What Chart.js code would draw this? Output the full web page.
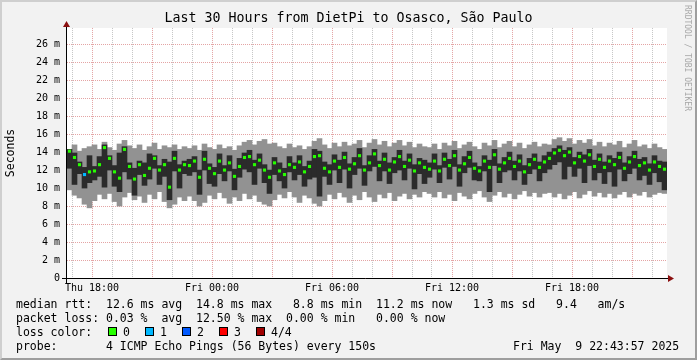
<!DOCTYPE html>
<html>
<head>
<meta charset="utf-8">
<title>DietPi to Osasco</title>
<script src="https://cdn.jsdelivr.net/npm/chart.js@4/dist/chart.umd.min.js"></script>
<style>
  html, body { margin: 0; padding: 0; background: #f2f2f2; }
  #wrap { position: relative; width: 697px; height: 360px; overflow: hidden; }
  #frame { position: absolute; left: 0; top: 0; width: 697px; height: 360px; box-sizing: border-box;
           border: 2px solid; border-color: #cfcfcf #9e9e9e #9e9e9e #cfcfcf; }
  #chart { position: absolute; left: 0; top: 0; }
  .txt { position: absolute; font-family: "DejaVu Sans Mono", monospace; font-size: 11.5px;
         line-height: 14px; white-space: pre; color: #000; }
  .box { position: absolute; width: 7px; height: 7px; border: 1px solid #000; }
  #credit { position: absolute; left: 691px; top: 5px; font-family: "DejaVu Sans Mono", monospace;
            font-size: 8px; line-height: 8px; white-space: pre; color: #a8a8a8;
            transform: rotate(90deg); transform-origin: 0 0; }
</style>
</head>
<body>
<div id="wrap">
  <div id="frame"></div>
  <canvas id="chart" width="697" height="360"></canvas>
  <div id="credit">RRDTOOL / TOBI OETIKER</div>
  <div class="txt" style="left:16px;top:297px">median rtt:  12.6 ms avg  14.8 ms max   8.8 ms min  11.2 ms now   1.3 ms sd   9.4   am/s</div>
  <div class="txt" style="left:16px;top:311px">packet loss: 0.03 %  avg  12.50 % max  0.00 % min   0.00 % now</div>
  <div class="txt" style="left:16px;top:325px">loss color:</div>
  <div id="lossLegend"></div>
  <div class="txt" style="left:16px;top:339px">probe:       4 ICMP Echo Pings (56 Bytes) every 150s</div>
  <div class="txt" style="left:513px;top:339px">Fri May  9 22:43:57 2025</div>
</div>
<script>
// one column = 15 minutes (0.25 h), 120 columns = 30 hours, starting Thu 16:45
const STEP_H = 0.25;

// smoke: min / max of the pings (light grey)
const pingMax = [
  14.2, 14.8, 14.1, 14.4, 14.6, 14.8, 14.3, 15.1, 14.5, 14.2, 14.9, 15.3, 14.7, 14.4, 14.8, 14.2, 14.6, 15.0, 14.3, 14.7, 14.5, 14.8, 14.3, 14.6,
  14.4, 14.7, 14.2, 14.9, 14.5, 14.3, 14.8, 14.4, 14.6, 14.2, 14.7, 15.1, 15.3, 14.8, 15.2, 15.4, 14.9, 15.0, 14.6, 14.4, 14.9, 14.5, 14.7, 14.3,
  14.6, 15.2, 15.5, 14.8, 14.4, 15.0, 14.6, 15.1, 14.7, 14.9, 15.3, 14.5, 15.0, 15.4, 14.8, 15.2, 14.6, 15.0, 15.3, 14.7, 15.1, 14.5, 14.9, 14.6,
  14.5, 14.9, 14.3, 15.0, 14.7, 15.2, 14.4, 14.8, 15.1, 14.6, 14.3, 15.0, 14.7, 15.3, 14.5, 14.9, 15.2, 14.6, 15.0, 14.4, 14.8, 15.1, 14.6, 14.9,
  14.8, 15.4, 15.6, 15.2, 15.5, 14.9, 15.3, 15.0, 15.4, 14.7, 15.1, 14.6, 15.0, 14.8, 15.2, 14.5, 14.9, 15.3, 14.6, 14.8, 14.4, 14.9, 14.5, 14.3
];
const pingMin = [
  9.8, 9.2, 8.9, 8.2, 7.8, 8.6, 9.3, 8.8, 9.4, 8.5, 8.0, 9.0, 9.5, 8.7, 9.1, 8.4, 9.3, 8.8, 9.6, 8.5, 7.8, 8.2, 9.0, 8.6,
  9.1, 8.6, 8.0, 8.4, 9.2, 8.8, 9.5, 8.9, 8.3, 9.0, 8.6, 9.4, 8.8, 9.2, 8.5, 8.2, 8.0, 8.7, 9.3, 8.9, 9.6, 9.0, 8.4, 9.2,
  8.9, 8.3, 8.0, 8.6, 9.3, 8.8, 9.5, 9.0, 8.4, 9.2, 8.7, 9.6, 9.0, 8.5, 9.3, 8.9, 9.5, 8.6, 9.1, 9.4, 8.8, 9.3, 9.0, 9.6,
  9.4, 9.0, 9.6, 8.9, 9.3, 8.6, 9.5, 9.1, 8.8, 9.4, 9.7, 9.0, 8.5, 9.2, 9.6, 9.0, 9.4, 8.8, 9.3, 9.7, 9.1, 9.5, 9.0, 9.4,
  9.5, 9.0, 9.4, 8.8, 9.2, 9.6, 8.9, 9.3, 9.7, 9.1, 9.5, 9.0, 9.4, 8.9, 9.3, 9.6, 9.0, 9.4, 9.2, 9.6, 9.0, 9.3, 9.5, 9.4
];
// inner smoke (dark grey)
const innerHigh = [
  14.3, 13.9, 12.9, 12.3, 13.6, 12.4, 13.5, 14.8, 13.6, 12.5, 13.9, 14.6, 12.8, 12.2, 13.0, 12.8, 13.8, 13.6, 12.5, 13.2, 12.9, 14.1, 12.6, 13.0,
  13.2, 13.5, 12.0, 14.1, 12.7, 12.3, 13.8, 12.5, 13.6, 12.1, 13.3, 13.9, 14.2, 13.1, 13.8, 12.6, 12.0, 13.4, 12.8, 12.2, 13.5, 12.8, 13.6, 12.4,
  13.0, 14.3, 14.1, 12.9, 12.6, 13.7, 13.1, 14.0, 12.7, 13.4, 14.4, 12.5, 13.6, 14.3, 13.0, 13.9, 12.8, 13.4, 14.2, 13.0, 13.8, 12.6, 13.3, 13.1,
  12.8, 13.8, 12.5, 13.9, 13.2, 14.2, 12.6, 13.5, 14.1, 12.8, 12.4, 13.6, 13.1, 14.3, 12.7, 13.4, 14.0, 13.0, 13.7, 12.5, 13.3, 13.8, 12.9, 13.6,
  14.0, 14.4, 14.7, 14.2, 14.5, 13.4, 14.0, 13.7, 14.3, 13.1, 13.8, 12.9, 13.6, 13.3, 14.0, 12.8, 13.5, 14.1, 13.2, 13.4, 12.7, 13.6, 13.0, 12.9
];
const innerLow = [
  12.2, 10.4, 11.6, 10.0, 10.6, 10.9, 11.3, 10.1, 12.0, 10.2, 9.6, 11.8, 11.0, 9.2, 11.5, 10.3, 11.0, 12.2, 10.4, 11.3, 8.7, 11.9, 10.0, 11.6,
  11.4, 11.8, 9.3, 12.0, 10.5, 10.2, 11.6, 10.8, 11.9, 9.8, 11.2, 12.1, 11.8, 10.4, 12.2, 10.6, 9.4, 11.5, 10.8, 10.0, 11.8, 10.9, 11.5, 10.2,
  11.0, 11.2, 9.1, 11.3, 10.4, 12.0, 10.6, 12.1, 10.0, 11.5, 12.2, 10.3, 11.9, 12.4, 10.8, 11.9, 10.5, 11.7, 12.0, 10.9, 12.2, 9.9, 11.6, 10.5,
  11.2, 12.1, 10.6, 12.3, 11.0, 12.4, 10.2, 11.7, 12.3, 10.9, 10.8, 11.9, 9.6, 12.5, 10.6, 11.8, 12.0, 10.9, 11.9, 10.4, 11.6, 12.1, 10.8, 11.7,
  12.1, 12.6, 12.9, 11.0, 12.4, 11.3, 12.2, 10.6, 12.5, 10.9, 11.7, 10.5, 11.8, 10.2, 12.1, 10.8, 11.6, 12.2, 10.9, 11.4, 10.4, 11.7, 10.7, 9.8
];
// median rtt (ms)
const medianRtt = [
  14.1, 13.4, 12.6, 11.5, 11.8, 11.9, 12.6, 14.5, 13.3, 11.8, 11.1, 14.3, 12.4, 11.0, 12.6, 11.4, 12.2, 13.3, 12.0, 12.6, 10.1, 13.3, 12.0, 12.6,
  12.5, 13.0, 11.2, 13.2, 12.2, 11.6, 13.0, 12.0, 12.8, 11.3, 12.4, 13.4, 13.5, 12.6, 13.1, 12.0, 11.2, 12.8, 11.9, 11.5, 12.6, 12.3, 12.9, 11.8,
  12.4, 13.5, 13.6, 12.2, 11.8, 13.0, 12.3, 13.4, 12.1, 12.7, 13.6, 12.0, 12.8, 13.8, 12.5, 13.2, 12.0, 12.9, 13.5, 12.4, 13.1, 11.9, 12.8, 12.3,
  12.1, 13.0, 11.9, 13.2, 12.5, 13.6, 12.0, 12.7, 13.4, 12.2, 11.9, 13.0, 12.3, 13.7, 12.1, 12.8, 13.3, 12.4, 13.0, 11.8, 12.6, 13.2, 12.3, 12.9,
  13.3, 13.9, 14.2, 13.6, 14.0, 12.8, 13.5, 13.0, 13.7, 12.4, 13.2, 12.3, 13.0, 12.6, 13.4, 12.2, 12.9, 13.5, 12.5, 12.8, 12.0, 12.9, 12.4, 12.1
];
// lost pings per column (out of 4)
const lostPings = [
  0, 0, 0, 1, 0, 0, 0, 0, 0, 0, 0, 0, 0, 0, 0, 0, 0, 0, 0, 0, 0, 0, 0, 0,
  0, 0, 0, 0, 0, 0, 0, 0, 0, 0, 0, 0, 0, 0, 0, 0, 0, 0, 0, 0, 0, 0, 0, 0,
  0, 0, 0, 0, 0, 0, 0, 0, 0, 0, 0, 0, 0, 0, 0, 0, 0, 0, 0, 0, 0, 0, 0, 0,
  0, 0, 0, 0, 0, 0, 0, 0, 0, 0, 0, 0, 0, 0, 0, 0, 0, 0, 0, 0, 0, 0, 0, 0,
  0, 0, 0, 0, 0, 0, 0, 0, 0, 0, 0, 0, 0, 0, 0, 0, 0, 0, 0, 0, 0, 0, 0, 0
];

const lossLabels = ['0', '1', '2', '3', '4/4'];
const lossColors = ['#26ff00', '#00b8ff', '#0059ff', '#ff0000', '#a00000'];

const xTickHours = [1.25, 7.25, 13.25, 19.25, 25.25];
const xTickLabels = ['Thu 18:00', 'Fri 00:00', 'Fri 06:00', 'Fri 12:00', 'Fri 18:00'];
const yTickValues = [0, 2, 4, 6, 8, 10, 12, 14, 16, 18, 20, 22, 24, 26];
const yTickLabels = ['0', '2 m', '4 m', '6 m', '8 m', '10 m', '12 m', '14 m', '16 m', '18 m', '20 m', '22 m', '24 m', '26 m'];

const MONO = '"DejaVu Sans Mono", monospace';
const GRID_MINOR = 'rgba(140,140,140,0.5)';
const GRID_MAJOR = 'rgba(205,90,90,0.55)';

// loss colour legend
let legend = document.getElementById('lossLegend');
lossLabels.forEach((l, i) => {
	let b = document.createElement('div');
	b.className = 'box';
	b.style.left = (108 + 37 * i) + 'px';
	b.style.top = '327px';
	b.style.background = lossColors[i];
	legend.appendChild(b);
	let t = document.createElement('div');
	t.className = 'txt';
	t.style.left = (123 + 37 * i) + 'px';
	t.style.top = '325px';
	t.textContent = l;
	legend.appendChild(t);
});

const times = medianRtt.map((_, i) => (i + 0.5) * STEP_H);
const hourLines = Array.from({length: 30}, (_, i) => 0.25 + i);
const yLines = Array.from({length: 28}, (_, i) => i);

const rrdFrame = {
	id: 'rrdFrame',
	beforeDraw(chart) {
		const {ctx, chartArea: a} = chart;
		ctx.save();
		ctx.fillStyle = '#ffffff';
		ctx.fillRect(a.left, a.top, a.right - a.left, a.bottom - a.top);
		ctx.restore();
	},
	afterDraw(chart) {
		const {ctx, chartArea: a} = chart;
		ctx.save();
		ctx.strokeStyle = '#000';
		ctx.lineWidth = 1;
		ctx.beginPath();
		ctx.moveTo(a.left - 5, a.bottom + 0.5);
		ctx.lineTo(a.right + 2, a.bottom + 0.5);
		ctx.moveTo(a.left - 0.5, a.bottom + 5);
		ctx.lineTo(a.left - 0.5, a.top - 2);
		ctx.stroke();
		ctx.fillStyle = '#8b1010';
		ctx.beginPath();
		ctx.moveTo(a.right + 1, a.bottom - 3);
		ctx.lineTo(a.right + 7, a.bottom + 0.5);
		ctx.lineTo(a.right + 1, a.bottom + 4);
		ctx.closePath();
		ctx.fill();
		ctx.beginPath();
		ctx.moveTo(a.left - 4, a.top - 1);
		ctx.lineTo(a.left - 0.5, a.top - 7);
		ctx.lineTo(a.left + 3, a.top - 1);
		ctx.closePath();
		ctx.fill();
		ctx.restore();
	}
};

function xGridColor(c) {
	if (!c.tick) return GRID_MINOR;
	return Math.abs((c.tick.value - 1.25) % 3) < 0.01 ? GRID_MAJOR : GRID_MINOR;
}
function yGridColor(c) {
	if (!c.tick) return GRID_MINOR;
	return c.tick.value % 2 === 0 ? GRID_MAJOR : GRID_MINOR;
}

new Chart(document.getElementById('chart'), {
	type: 'bar',
	data: {
		datasets: [
			{
				type: 'line',
				data: times.map((x, i) => ({x: x, y: medianRtt[i]})),
				showLine: false,
				pointStyle: 'rect',
				pointRadius: 2.2,
				pointBorderWidth: 0,
				pointBackgroundColor: (c) => lossColors[lostPings[c.dataIndex]] || lossColors[0]
			},
			{
				data: times.map((x, i) => ({x: x, y: [innerLow[i], innerHigh[i]]})),
				backgroundColor: '#2b2b2b',
				grouped: false,
				barPercentage: 1,
				categoryPercentage: 1,
				borderWidth: 0
			},
			{
				data: times.map((x, i) => ({x: x, y: [pingMin[i], pingMax[i]]})),
				backgroundColor: '#929292',
				grouped: false,
				barPercentage: 1,
				categoryPercentage: 1,
				borderWidth: 0
			}
		]
	},
	options: {
		responsive: false,
		animation: false,
		devicePixelRatio: 1,
		layout: {padding: {left: 0, right: 0, top: 0, bottom: 62}},
		plugins: {
			legend: {display: false},
			tooltip: {enabled: false},
			title: {
				display: true,
				text: 'Last 30 Hours from DietPi to Osasco, São Paulo',
				color: '#000',
				font: {family: MONO, size: 13.3, weight: 'normal'},
				padding: {top: 11, bottom: 1}
			}
		},
		scales: {
			x: {
				type: 'linear',
				min: 0,
				max: 30,
				offset: false,
				afterBuildTicks: (s) => { s.ticks = hourLines.map((v) => ({value: v})); },
				afterFit: (s) => { s.height = 20; },
				border: {display: false, dash: [1, 1]},
				grid: {drawTicks: false, offset: false, color: xGridColor},
				ticks: {
					autoSkip: false,
					maxRotation: 0,
					minRotation: 0,
					padding: 4,
					color: '#000',
					font: {family: MONO, size: 10},
					callback: (v) => {
						let k = xTickHours.indexOf(v);
						return k < 0 ? '' : xTickLabels[k];
					}
				}
			},
			y: {
				min: 0,
				max: 27.8,
				afterBuildTicks: (s) => { s.ticks = yLines.map((v) => ({value: v})); },
				afterFit: (s) => { s.width = 67; },
				border: {display: false, dash: [1, 1]},
				grid: {drawTicks: false, color: yGridColor},
				title: {
					display: true,
					text: 'Seconds',
					color: '#000',
					font: {family: MONO, size: 11.5},
					padding: {top: 4, bottom: 0}
				},
				ticks: {
					padding: 7,
					color: '#000',
					font: {family: MONO, size: 10},
					callback: (v) => {
						let k = yTickValues.indexOf(v);
						return k < 0 ? '' : yTickLabels[k];
					}
				}
			},
			// empty right-hand strip that keeps room for the arrow and credit
			yRight: {
				position: 'right',
				afterFit: (s) => { s.width = 30; },
				border: {display: false},
				grid: {display: false},
				ticks: {display: false}
			}
		}
	},
	plugins: [rrdFrame]
});
</script>
</body>
</html>
